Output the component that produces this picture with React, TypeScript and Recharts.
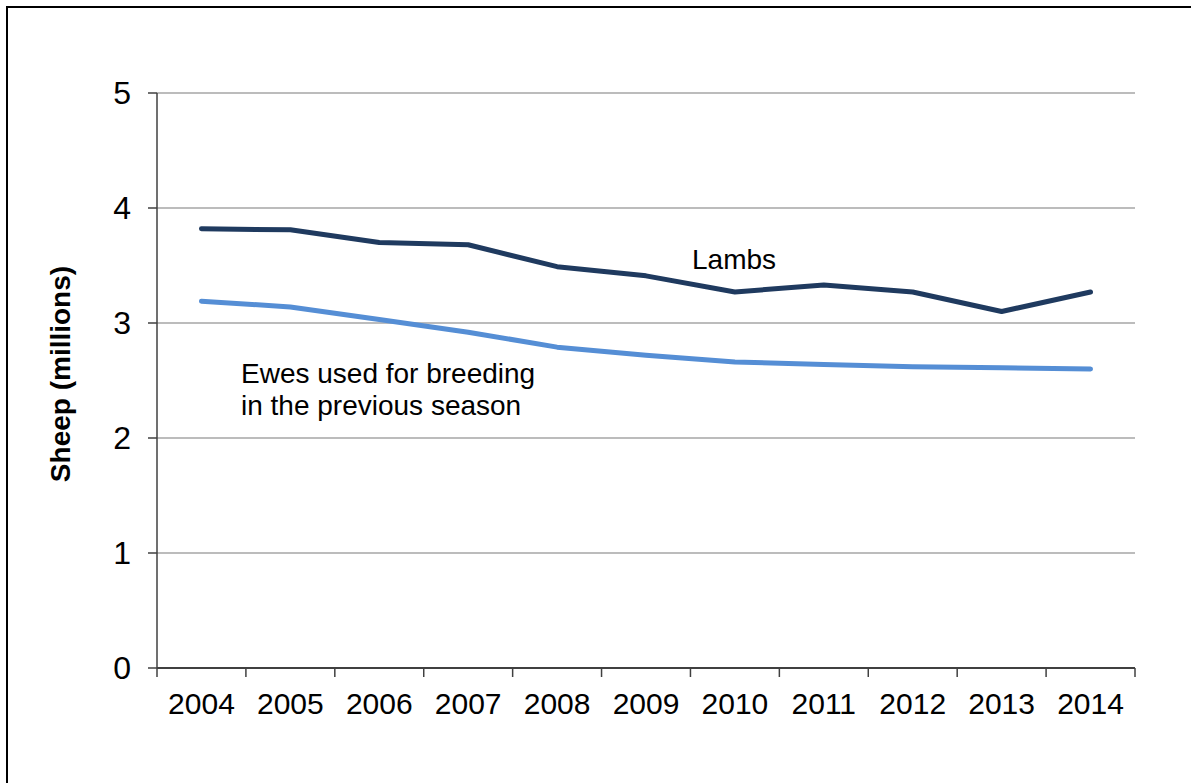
import React from 'react';
import { LineChart, Line, XAxis, YAxis, CartesianGrid } from 'recharts';

// Sheep numbers (millions), June survey
const years = ['2004', '2005', '2006', '2007', '2008', '2009', '2010', '2011', '2012', '2013', '2014'];
const lambs = [3.82, 3.81, 3.70, 3.68, 3.49, 3.41, 3.27, 3.33, 3.27, 3.10, 3.27];
const ewes = [3.19, 3.14, 3.03, 2.92, 2.79, 2.72, 2.66, 2.64, 2.62, 2.61, 2.60];
const yTicks = [0, 1, 2, 3, 4, 5];

const data = years.map((year, i) => ({ idx: i, year, lambs: lambs[i], ewes: ewes[i] }));

// x ticks: integer positions carry the year labels, half positions carry the boundary marks
const xTicks: number[] = [];
years.forEach((_, i) => {
  xTicks.push(i - 0.5);
  xTicks.push(i);
});
xTicks.push(years.length - 0.5);

const FONT = '"Liberation Sans", Arial, Helvetica, sans-serif';
const W = 1191;
const H = 783;

const XTick = (props: any) => {
  const { x, y, payload } = props;
  const v = payload.value as number;
  if (Number.isInteger(v)) {
    return (
      <text x={x} y={y + 25} dy="0.71em" textAnchor="middle" fontSize={30} fill="#000" fontFamily={FONT}>
        {years[v]}
      </text>
    );
  }
  return <line x1={x} y1={y} x2={x} y2={y + 9} stroke="#404040" strokeWidth={1.5} />;
};

export default function App() {
  return (
    <div style={{ position: 'absolute', left: 0, top: 0, width: W, height: H, overflow: 'hidden', background: '#fff' }}>
      <div
        style={{
          position: 'absolute',
          left: 6,
          top: 6,
          width: W + 400,
          height: H + 400,
          border: '2px solid #000',
        }}
      />
      <div style={{ position: 'absolute', left: 0, top: 0 }}>
        <LineChart width={W} height={H} data={data} margin={{ top: 93, right: 56, left: 0, bottom: 0 }}>
          <CartesianGrid horizontal vertical={false} stroke="#a6a6a6" strokeWidth={1.3} />
          <XAxis
            dataKey="idx"
            type="number"
            domain={[-0.5, years.length - 0.5]}
            ticks={xTicks}
            interval={0}
            tickLine={false}
            tickSize={0}
            tickMargin={0}
            tick={<XTick />}
            axisLine={{ stroke: '#404040', strokeWidth: 2 }}
            height={115}
            allowDataOverflow
          />
          <YAxis
            type="number"
            domain={[0, 5]}
            ticks={yTicks}
            interval={0}
            width={157}
            tickSize={9}
            tickMargin={17}
            tickLine={{ stroke: '#404040', strokeWidth: 1.5 }}
            axisLine={{ stroke: '#404040', strokeWidth: 1.5 }}
            tick={{ fontSize: 32, fill: '#000', fontFamily: FONT }}
          />
          <Line
            type="linear"
            dataKey="ewes"
            stroke="#558ed5"
            strokeWidth={5}
            dot={false}
            strokeLinecap="round"
            strokeLinejoin="round"
            isAnimationActive={false}
          />
          <Line
            type="linear"
            dataKey="lambs"
            stroke="#1f3a5f"
            strokeWidth={5}
            dot={false}
            strokeLinecap="round"
            strokeLinejoin="round"
            isAnimationActive={false}
          />
        </LineChart>
      </div>
      <svg width={W} height={H} style={{ position: 'absolute', left: 0, top: 0, pointerEvents: 'none' }}>
        <text
          x={60}
          y={374}
          transform="rotate(-90 60 374)"
          textAnchor="middle"
          dominantBaseline="central"
          fontSize={28}
          fontWeight="bold"
          fill="#000"
          fontFamily={FONT}
        >
          Sheep (millions)
        </text>
        <text x={692} y={269} fontSize={28} fill="#000" fontFamily={FONT}>
          Lambs
        </text>
        <text x={241} y={383} fontSize={28} fill="#000" fontFamily={FONT}>
          Ewes used for breeding
        </text>
        <text x={241} y={415} fontSize={28} fill="#000" fontFamily={FONT}>
          in the previous season
        </text>
      </svg>
    </div>
  );
}
